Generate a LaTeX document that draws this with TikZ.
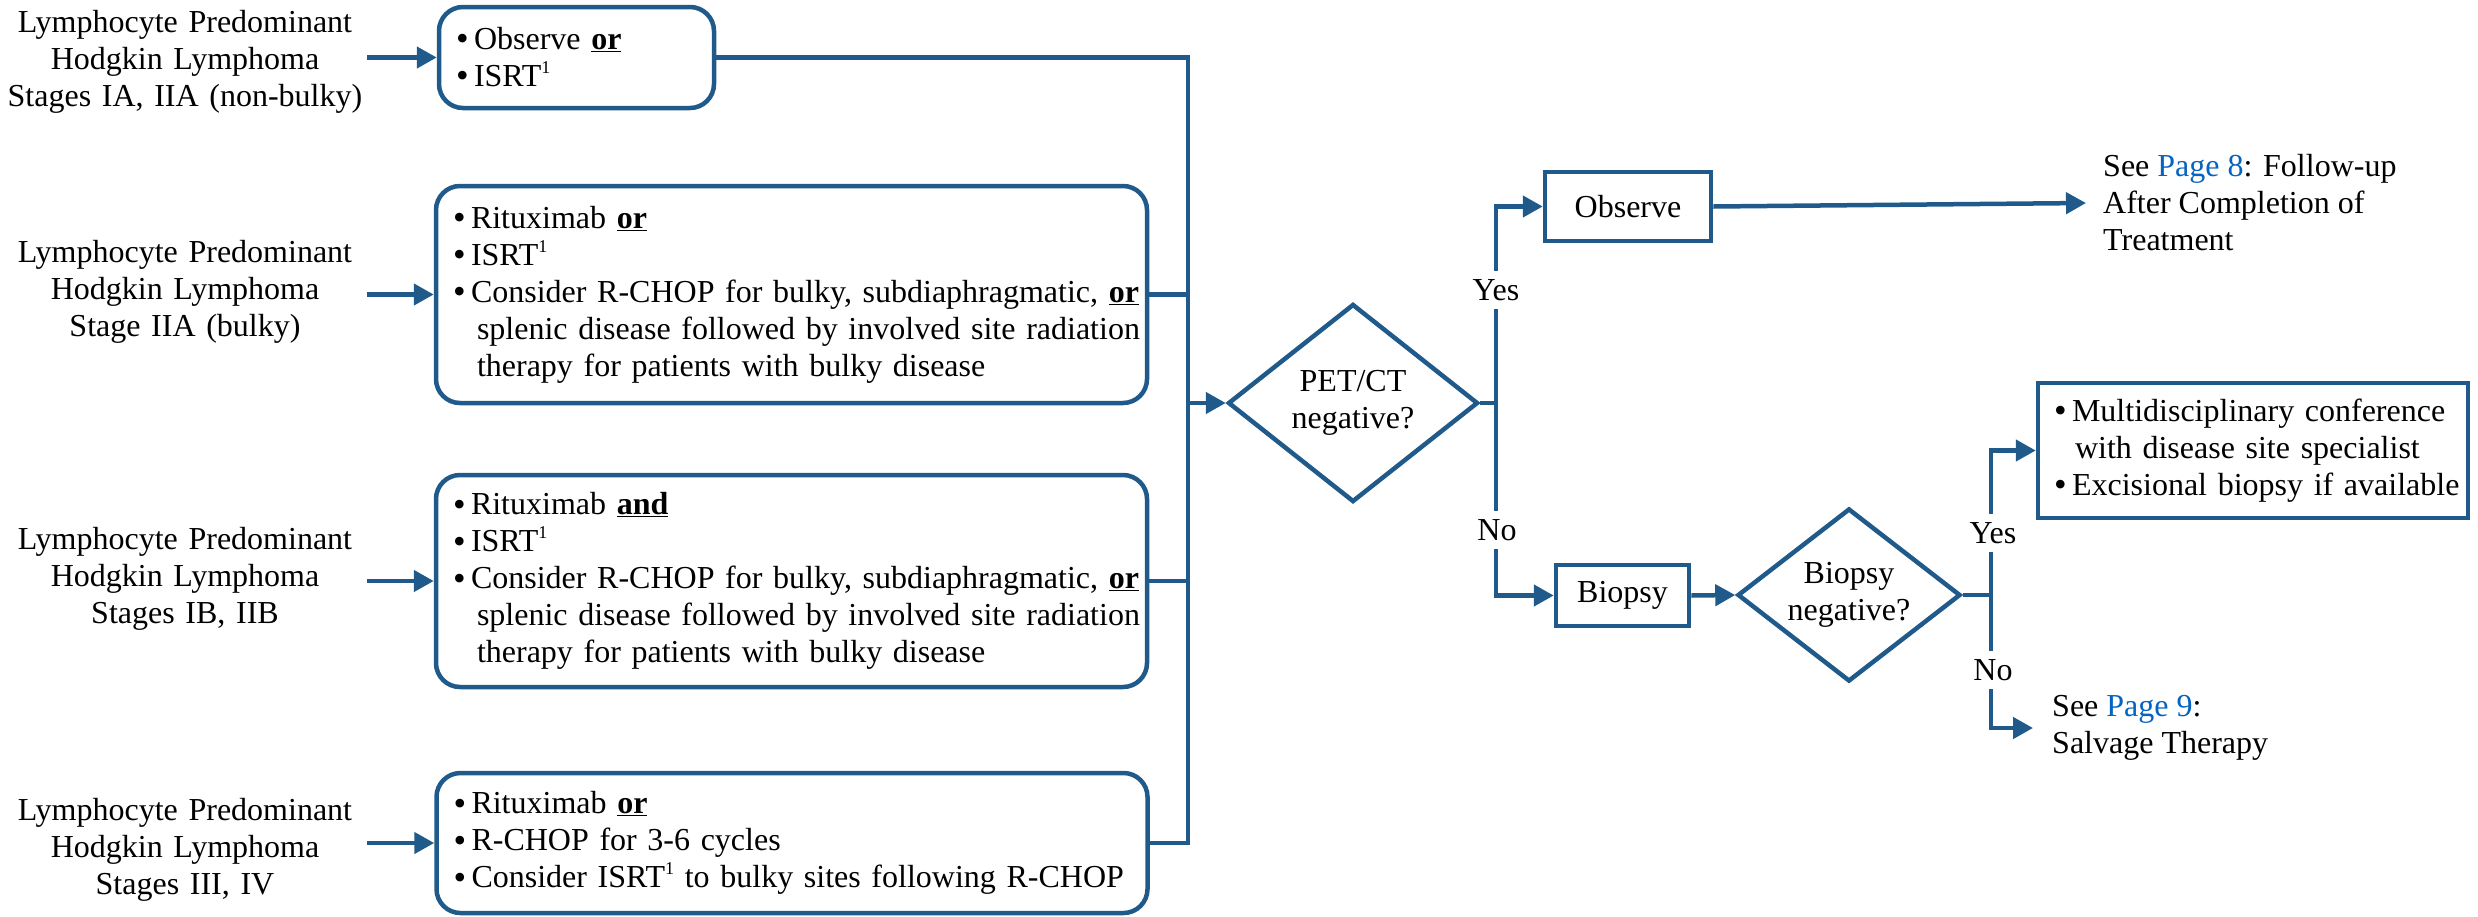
\documentclass[tikz,border=0pt]{standalone}
\usepackage{fontspec}
\setmainfont{Liberation Serif}
\usetikzlibrary{arrows.meta,shapes.geometric}
\definecolor{lc}{HTML}{1F5A8A}
\definecolor{linkc}{HTML}{0563C1}
\newcommand{\bul}{\makebox[18pt][l]{\fontsize{36pt}{36pt}\selectfont\raisebox{-1.5pt}{•}}}
\newcommand{\uor}{\underline{\textbf{or}}}
\newcommand{\uand}{\underline{\textbf{and}}}
\newcommand{\srt}{ISRT\raisebox{13pt}{\fontsize{18pt}{18pt}\selectfont 1}}
\begin{document}
\begin{tikzpicture}[x=1pt,y=-1pt,
  every node/.style={font=\fontsize{32pt}{37pt}\selectfont, text=black},
  conn/.style={draw=lc, line width=4.5pt},
  arr/.style={conn, -{Triangle[length=20pt,width=21pt]}},
  rbox/.style={draw=lc, line width=4.5pt, rounded corners=24pt, align=left, inner xsep=17pt, inner ysep=0pt},
  sbox/.style={draw=lc, line width=4.5pt, align=left, inner sep=0pt},
  dia/.style={draw=lc, line width=4.5pt, diamond, align=center, inner sep=0pt},
  lab/.style={align=center, inner sep=0pt, text width=364pt},
  yn/.style={fill=white, inner xsep=2pt, inner ysep=8pt},
]
\useasboundingbox (0,0) rectangle (2478,916);

% left labels
\node[lab] (l1) at (185,62) {Lymphocyte Predominant\\Hodgkin Lymphoma\\Stages IA, IIA (non-bulky)};
\node[lab] (l2) at (185,292) {Lymphocyte Predominant\\Hodgkin Lymphoma\\Stage IIA (bulky)};
\node[lab] (l3) at (185,579) {Lymphocyte Predominant\\Hodgkin Lymphoma\\Stages IB, IIB};
\node[lab] (l4) at (185,850) {Lymphocyte Predominant\\Hodgkin Lymphoma\\Stages III, IV};

% treatment boxes
\node[rbox, text width=241pt, minimum height=101pt] (b1) at (576.5,57.5)
  {\bul Observe \uor\\ \bul \srt};
\node[rbox, text width=677pt, minimum height=217pt] (b2) at (791.5,294.5)
  {\bul Rituximab \uor\\
   \bul \srt\\
   \bul \mbox{Consider R-CHOP for bulky, subdiaphragmatic, \uor}\\
   \hspace*{24pt}\mbox{splenic disease followed by involved site radiation}\\
   \hspace*{24pt}\mbox{therapy for patients with bulky disease}};
\node[rbox, text width=677pt, minimum height=212pt] (b3) at (791.5,581)
  {\bul Rituximab \uand\\
   \bul \srt\\
   \bul \mbox{Consider R-CHOP for bulky, subdiaphragmatic, \uor}\\
   \hspace*{24pt}\mbox{splenic disease followed by involved site radiation}\\
   \hspace*{24pt}\mbox{therapy for patients with bulky disease}};
\node[rbox, text width=677pt, minimum height=140pt] (b4) at (792,843)
  {\bul Rituximab \uor\\
   \bul R-CHOP for 3-6 cycles\\
   \bul \mbox{Consider \srt{} to bulky sites following R-CHOP}};

\foreach \i in {1,2,3,4}{\draw[arr] (l\i.east |- b\i.west) -- (b\i.west);}

% bus
\coordinate (bj) at (1188,403);
\draw[conn] (b1.east) -| (bj);
\draw[conn] (b4.east) -| (bj);
\draw[conn] (b2.east) -- (b2.east -| bj);
\draw[conn] (b3.east) -- (b3.east -| bj);

% PET/CT decision
\node[dia, minimum width=250pt, minimum height=198pt, aspect=1.26] (d1) at (1353,403) {PET/CT\\negative?};
\draw[arr] (bj) -- (d1.west);
\coordinate (j1) at (1496,403);
\node[sbox, minimum width=166pt, minimum height=69pt] (obs) at (1628,206.5) {Observe};
\node[sbox, minimum width=133pt, minimum height=61pt] (bio) at (1622.5,595.5) {Biopsy};
\draw[conn] (d1.east) -- (j1);
\draw[arr] (j1) |- (obs.west);
\draw[arr] (j1) |- (bio.west);
\node[yn] (y1) at (1496,290) {Yes};
\node[yn] (n1) at (1497,530) {No};

\node[anchor=west, align=left, inner sep=0pt] (t8) at (2103,203)
  {See \textcolor{linkc}{Page 8}: Follow-up\\After Completion of\\Treatment};
\draw[arr] (obs.east) -- ([xshift=-17pt]t8.west);

% Biopsy decision
\node[dia, minimum width=223pt, minimum height=173pt, aspect=1.29] (d2) at (1849,595) {Biopsy\\negative?};
\draw[arr] (bio.east) -- (d2.west);
\coordinate (j2) at (1991,595);
\draw[conn] (d2.east) -- (j2);
\node[sbox, minimum width=430pt, minimum height=135pt, inner xsep=16pt, text width=398pt] (mb) at (2253,450.5)
  {\bul \mbox{Multidisciplinary conference}\\
   \hspace*{21pt}\mbox{with disease site specialist}\\
   \bul \mbox{Excisional biopsy if available}};
\node[anchor=west, align=left, inner sep=0pt] (t9) at (2052,728)
  {See \textcolor{linkc}{Page 9}:\\Salvage Therapy};
\draw[arr] (j2) |- (mb.west);
\draw[arr] (j2) |- ([xshift=-19pt]t9.west);
\node[yn] (y2) at (1993,533) {Yes};
\node[yn] (n2) at (1993,670) {No};
\end{tikzpicture}
\end{document}
